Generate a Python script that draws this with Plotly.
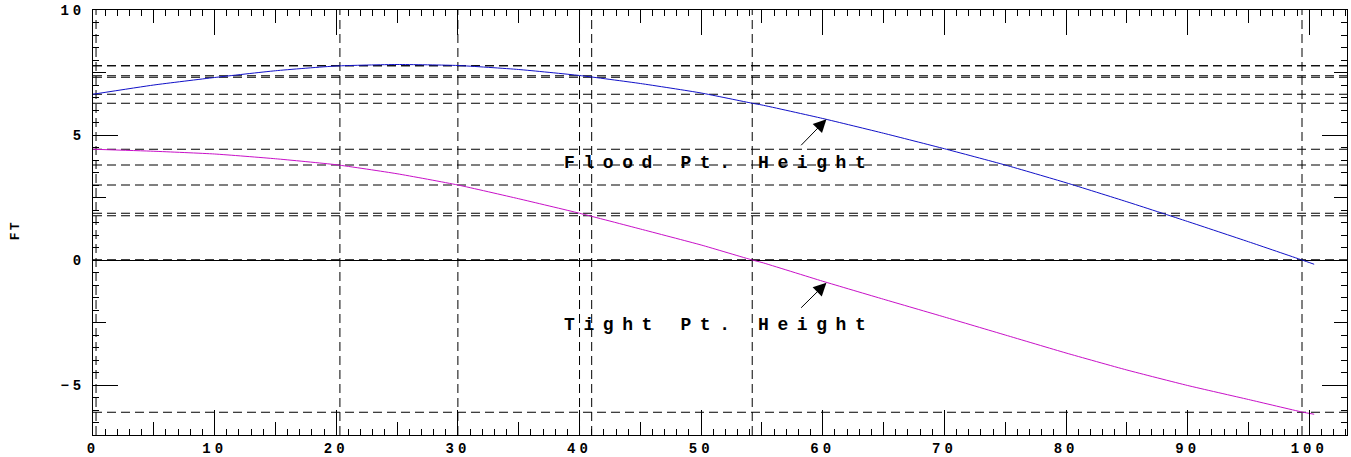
import plotly.graph_objects as go

# ---- data ----
x_pos = [0, 5, 10, 15, 20, 25, 30, 35, 40, 45, 50, 54.2, 55, 60, 65, 70, 75, 80, 85, 90, 95, 99.4, 100.4]
flood_h = [6.63, 7.00, 7.30, 7.57, 7.76, 7.82, 7.78, 7.62, 7.38, 7.06, 6.68, 6.27, 6.20, 5.66, 5.07,
           4.45, 3.80, 3.09, 2.33, 1.54, 0.73, 0.00, -0.17]
tight_h = [4.43, 4.35, 4.24, 4.05, 3.81, 3.45, 3.00, 2.45, 1.87, 1.24, 0.60, 0.00, -0.10, -0.85, -1.57,
           -2.28, -3.00, -3.72, -4.40, -5.02, -5.58, -6.08, -6.17]

marker_x = [0.25, 20.3, 30, 40, 41, 54.2, 99.4]
flood_mark = [6.63, 7.77, 7.77, 7.37, 7.31, 6.27, 0.0]
tight_mark = [4.43, 3.80, 3.00, 1.87, 1.77, 0.0, -6.09]

x_ticks = [0, 10, 20, 30, 40, 50, 60, 70, 80, 90, 100]
x_tick_labels = ["0", "10", "20", "30", "40", "50", "60", "70", "80", "90", "100"]
y_ticks = [-5, 0, 5, 10]
y_tick_labels = ["\u22125", "0", "5", "10"]

flood_label = "Flood Pt. Height"
tight_label = "Tight Pt. Height"
y_title = "FT"

X_RANGE = [0, 103.1]
Y_RANGE = [-7, 10]

MONO = "Liberation Mono"


def spaced(t, px):
    return "<span style='letter-spacing:%spx'>%s</span>" % (px, t)


fig = go.Figure()

fig.add_trace(go.Scatter(x=x_pos, y=flood_h, mode="lines", line=dict(color="#1010c8", width=1, shape="spline", smoothing=0.5),
                         showlegend=False, hoverinfo="skip"))
fig.add_trace(go.Scatter(x=x_pos, y=tight_h, mode="lines", line=dict(color="#c810c8", width=1, shape="spline", smoothing=0.5),
                         showlegend=False, hoverinfo="skip"))
# invisible trace for the overlay (mid ticks) subplot
fig.add_trace(go.Scatter(x=[None], y=[None], xaxis="x2", yaxis="y2", showlegend=False, hoverinfo="skip"))

dash = "9px,5px"
shapes = []
for xv in marker_x:
    shapes.append(dict(type="line", xref="x", yref="paper", x0=xv, x1=xv, y0=0, y1=1,
                       line=dict(color="black", width=1, dash=dash), layer="below"))
for yv in flood_mark + tight_mark:
    shapes.append(dict(type="line", xref="paper", yref="y", x0=0, x1=1, y0=yv, y1=yv,
                       line=dict(color="black", width=1, dash=dash), layer="below"))

tickfont = dict(family=MONO, size=14, color="black", weight="bold")

fig.update_layout(
    width=1351, height=457,
    margin=dict(l=93, r=4, t=10, b=22),
    paper_bgcolor="white", plot_bgcolor="white",
    shapes=shapes,
    xaxis=dict(range=X_RANGE, tickvals=x_ticks, ticktext=[spaced(t, 4) for t in x_tick_labels],
               ticks="inside", ticklen=25, tickwidth=1, tickcolor="black",
               minor=dict(dtick=1, tick0=0, ticks="inside", ticklen=6, tickwidth=1, tickcolor="black"),
               showline=True, linecolor="black", linewidth=1, mirror="ticks",
               showgrid=False, zeroline=False, tickfont=tickfont, ticklabelstandoff=0, automargin=False),
    yaxis=dict(range=Y_RANGE, tickvals=y_ticks, ticktext=[spaced(t, 4) for t in y_tick_labels],
               ticks="inside", ticklen=25, tickwidth=1, tickcolor="black",
               minor=dict(dtick=0.5, tick0=0, ticks="inside", ticklen=6, tickwidth=1, tickcolor="black"),
               showline=True, linecolor="black", linewidth=1, mirror="ticks",
               showgrid=False, zeroline=True, zerolinecolor="black", zerolinewidth=1,
               tickfont=tickfont, ticklabelstandoff=4, automargin=False),
    xaxis2=dict(range=X_RANGE, overlaying="x", anchor="y2", side="bottom", dtick=5, tick0=0,
                ticks="inside", ticklen=13, tickwidth=1, tickcolor="black", mirror="ticks",
                showticklabels=False, showline=False, showgrid=False, zeroline=False, automargin=False),
    yaxis2=dict(range=Y_RANGE, overlaying="y", anchor="x2", side="left", dtick=2.5, tick0=0,
                ticks="inside", ticklen=13, tickwidth=1, tickcolor="black", mirror="ticks",
                showticklabels=False, showline=False, showgrid=False, zeroline=False, automargin=False),
    annotations=[
        dict(x=51.1, y=3.87, xref="x", yref="y", text=spaced(flood_label, 8.6), showarrow=False,
             xanchor="center", yanchor="middle", xshift=4,
             font=dict(family=MONO, size=18, color="black", weight="bold")),
        dict(x=51.1, y=-2.6, xref="x", yref="y", text=spaced(tight_label, 8.6), showarrow=False,
             xanchor="center", yanchor="middle", xshift=4,
             font=dict(family=MONO, size=18, color="black", weight="bold")),
        dict(x=60.3, y=5.63, ax=58.1, ay=4.53, xref="x", yref="y", axref="x", ayref="y", text="",
             showarrow=True, arrowhead=2, arrowsize=2.6, arrowwidth=1, arrowcolor="black"),
        dict(x=60.3, y=-0.91, ax=58.1, ay=-1.97, xref="x", yref="y", axref="x", ayref="y", text="",
             showarrow=True, arrowhead=2, arrowsize=2.6, arrowwidth=1, arrowcolor="black"),
        dict(x=0, y=0.482, xref="paper", yref="paper", text=spaced(y_title, 2), showarrow=False,
             textangle=-90, xanchor="center", yanchor="middle", xshift=-78,
             font=dict(family=MONO, size=13, color="black", weight="bold")),
    ],
)

fig.write_html("out.html", config={"displayModeBar": False},
               post_script="document.body.style.margin='0';document.body.style.overflow='hidden';")
